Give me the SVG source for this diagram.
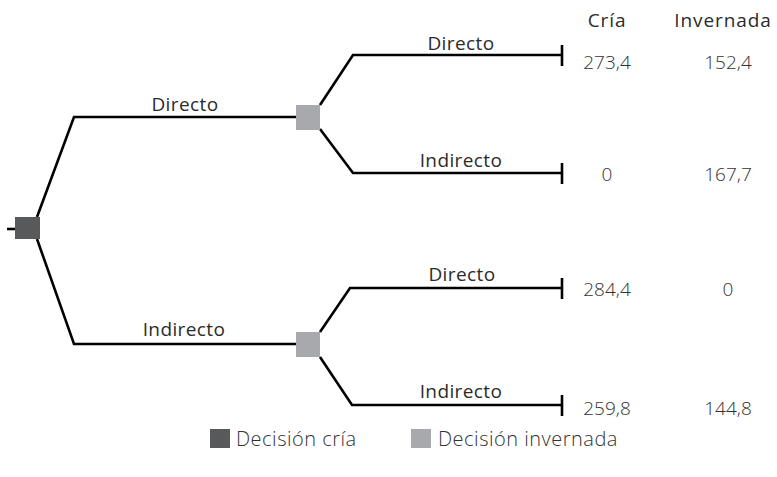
<svg xmlns="http://www.w3.org/2000/svg" width="777" height="477" viewBox="0 0 777 477">
<style>
.ln{fill:none;stroke:#000;stroke-width:2.6;stroke-linejoin:miter}
.lbl{font-family:"Open Sans","Noto Sans",sans-serif;font-size:19px;fill:#2b2b2b;text-anchor:middle;letter-spacing:0.4px}
.hd{font-family:"Open Sans","Noto Sans",sans-serif;font-size:19px;fill:#2b2b2b;text-anchor:middle;letter-spacing:0.9px}
.num{font-family:"Open Sans","Noto Sans",sans-serif;font-size:19px;font-weight:300;fill:#333;text-anchor:middle}
.leg{font-family:"Open Sans","Noto Sans",sans-serif;font-size:20px;font-weight:300;fill:#333;letter-spacing:0.5px}
.dk{fill:#58595b}
.gr{fill:#a7a9ac}
</style>
<rect width="777" height="477" fill="#fff"/>
<g id="connectors">
<path class="ln" d="M7,229H15"/>
<path class="ln" d="M37,217L74,117H296"/>
<path class="ln" d="M37,239L74,344H296"/>
<path class="ln" d="M320,105L353,55H562"/>
<path class="ln" d="M320,129L353,173H562"/>
<path class="ln" d="M320,332L350,288H562"/>
<path class="ln" d="M320,357L352,405H562"/>
<path class="ln" d="M562,45V66M562,163V184M562,278V299M562,395V416"/>
</g>
<g id="labels">
<text class="lbl" x="185" y="111">Directo</text>
<text class="lbl" x="184" y="336">Indirecto</text>
<text class="lbl" x="461" y="50">Directo</text>
<text class="lbl" x="461" y="167">Indirecto</text>
<text class="lbl" x="462" y="281">Directo</text>
<text class="lbl" x="461" y="398">Indirecto</text>
</g>
<g id="node-root"><rect class="dk" x="15" y="217" width="25" height="22"/></g>
<g id="node-directo"><rect class="gr" x="296" y="105" width="24" height="25"/></g>
<g id="node-indirecto"><rect class="gr" x="296" y="332" width="24" height="25"/></g>
<g id="headers">
<text class="hd" x="607" y="27">Cría</text>
<text class="hd" x="723" y="27">Invernada</text>
</g>
<g id="payoffs">
<text class="num" x="607" y="69">273,4</text>
<text class="num" x="728" y="69">152,4</text>
<text class="num" x="607" y="181">0</text>
<text class="num" x="728" y="181">167,7</text>
<text class="num" x="607" y="296">284,4</text>
<text class="num" x="728" y="296">0</text>
<text class="num" x="607" y="415">259,8</text>
<text class="num" x="728" y="415">144,8</text>
</g>
<g id="legend">
<rect class="dk" x="210" y="429" width="20" height="19"/>
<text class="leg" x="236" y="446">Decisión cría</text>
<rect class="gr" x="411" y="429" width="20" height="19"/>
<text class="leg" x="438" y="446">Decisión invernada</text>
</g>
</svg>
